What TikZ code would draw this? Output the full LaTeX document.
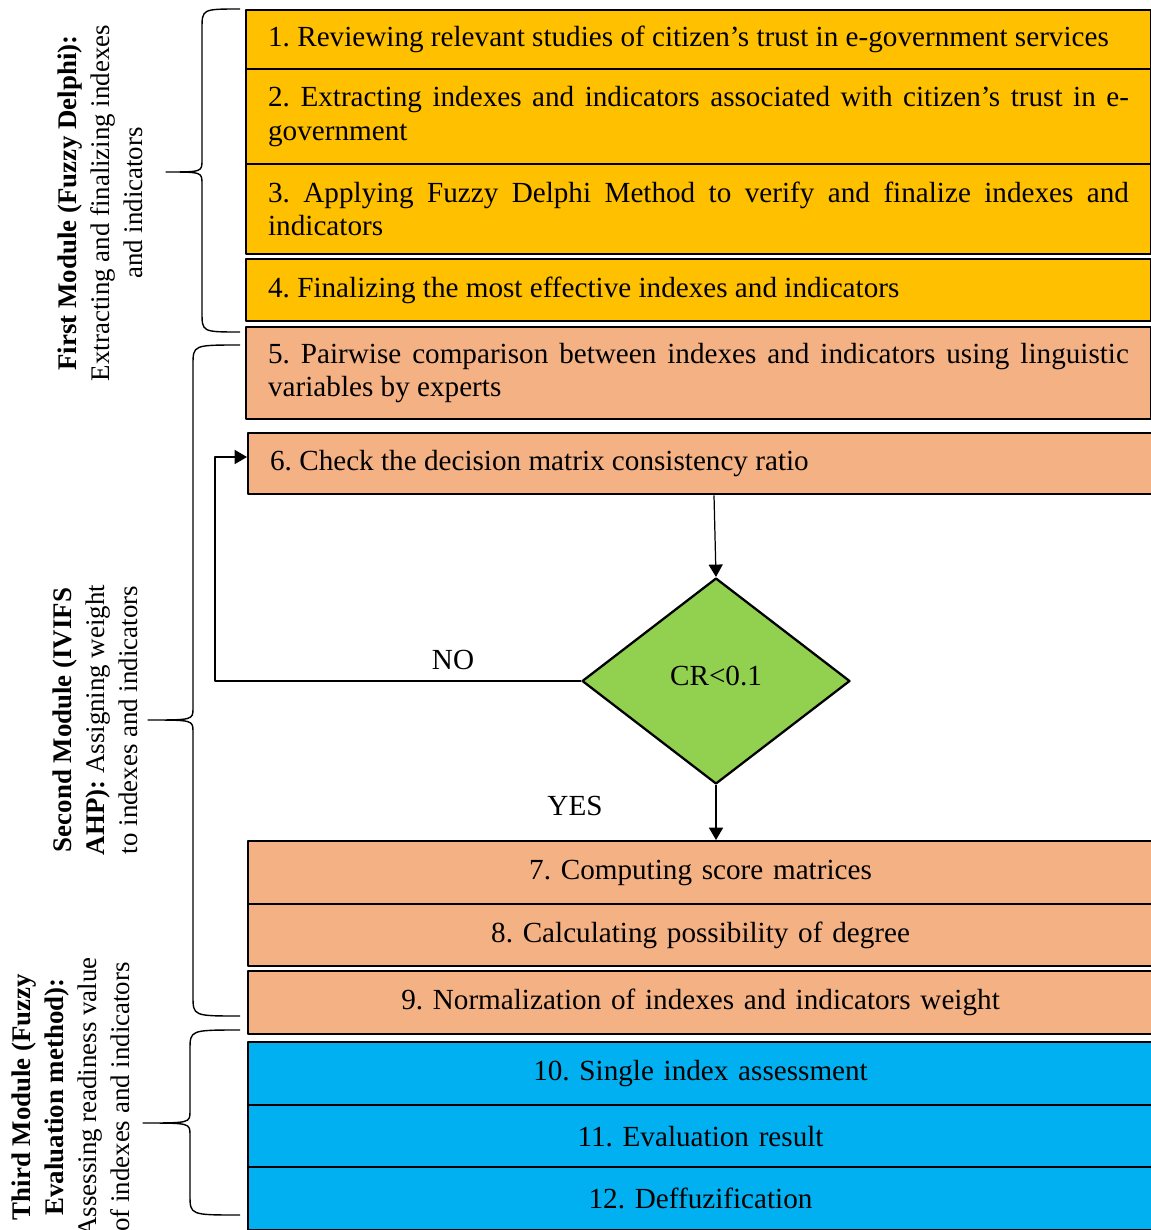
\documentclass[tikz,border=0pt]{standalone}
\usepackage{fontspec}
\setmainfont{Liberation Serif}
\usetikzlibrary{shapes.geometric,arrows.meta,positioning}

\definecolor{delphi}{HTML}{FFC000}
\definecolor{ahp}{HTML}{F4B183}
\definecolor{crgreen}{HTML}{92D050}
\definecolor{fuzzyeval}{HTML}{00B0F0}

\newcommand{\boxfont}{\fontsize{16.6}{19}\selectfont\frenchspacing\hyphenpenalty=10000\relax}
\newcommand{\sidefont}{\fontsize{15.3}{18.8}\selectfont}
\tikzset{
  stepbox/.style={draw,line width=1.3pt,anchor=north west,text width=17.22cm,
    inner xsep=0.44cm,inner ysep=0pt,align=justify,font=\boxfont},
  midbox/.style={stepbox,align=center},
  modtext/.style={rotate=90,align=center,font=\sidefont},
}
% brace: end x, spine x, tip x, top y, tip y, bottom y
\newcommand{\modbrace}[6]{%
  \draw[line width=0.8pt] (#1,#4) .. controls (#2,#4) .. (#2,#4+20) -- (#2,#5-12)
    .. controls (#2,#5) .. (#3,#5) .. controls (#2,#5) .. (#2,#5+12) -- (#2,#6-20)
    .. controls (#2,#6) .. (#1,#6);}

\begin{document}
\begin{tikzpicture}[x=0.02cm,y=-0.02cm,>={Triangle[length=7pt,width=8pt]},line join=round]
  \useasboundingbox (0,0) rectangle (1151,1230);
  % first module
  \node[stepbox,fill=delphi,minimum height=1.18cm] (s1) at (245,9) {1. Reviewing relevant studies of citizen's trust in e-government services};
  \node[stepbox,fill=delphi,minimum height=1.9cm] (s2) at (245,68) {2. Extracting indexes and indicators associated with citizen's trust in e-\linebreak government};
  \node[stepbox,fill=delphi,minimum height=1.8cm] (s3) at (245,163) {3. Applying Fuzzy Delphi Method to verify and finalize indexes and\linebreak indicators};
  \node[stepbox,fill=delphi,minimum height=1.24cm] (s4) at (245,258) {4. Finalizing the most effective indexes and indicators};
  % second module
  \node[stepbox,fill=ahp,minimum height=1.84cm] (s5) at (245,326) {5. Pairwise comparison between indexes and indicators using linguistic\linebreak variables by experts};
  \node[stepbox,fill=ahp,minimum height=1.22cm] (s6) at (247,432) {6. Check the decision matrix consistency ratio};
  \node[diamond,draw,line width=1.3pt,fill=crgreen,minimum width=5.36cm,minimum height=4.12cm,inner sep=0pt,font=\boxfont] (cr) at (716,681) {\raisebox{6pt}{CR<0.1}};
  \node[midbox,fill=ahp,minimum height=1.26cm] (s7) at (247,840) {7. Computing score matrices};
  \node[midbox,fill=ahp,minimum height=1.24cm] (s8) at (247,903) {8. Calculating possibility of degree};
  \node[midbox,fill=ahp,minimum height=1.26cm] (s9) at (247,970) {9. Normalization of indexes and indicators weight};
  % third module
  \node[midbox,fill=fuzzyeval,minimum height=1.26cm] (s10) at (247,1041) {10. Single index assessment};
  \node[midbox,fill=fuzzyeval,minimum height=1.24cm] (s11) at (247,1104) {11. Evaluation result};
  \node[midbox,fill=fuzzyeval,minimum height=1.26cm] (s12) at (247,1166) {12. Deffuzification};

  % connectors
  \coordinate (back) at (215,681);
  \draw[->,line width=0.7pt] (s6.south -| 714,0) -- (cr.north);
  \draw[->,line width=0.7pt] (cr.south) -- (cr.south |- s7.north);
  \draw[->,line width=0.7pt] (cr.west) -- (back) |- (215,457) -- (s6.west |- 0,457);
  \node[font=\boxfont] (no) at (453,660) {NO};
  \node[font=\boxfont] (yes) at (575,806) {YES};

  % module braces and labels
  \modbrace{240}{202}{166}{9}{172}{332}
  \modbrace{240}{193}{148}{345}{720}{1016}
  \modbrace{240}{190}{143}{1030}{1123}{1215}
  \node[modtext] (m1) at (100,203) {\textbf{First Module (Fuzzy Delphi):}\\Extracting and finalizing indexes\\and indicators};
  \node[modtext] (m2) at (95,720) {\textbf{Second Module (IVIFS}\\\textbf{AHP):} Assigning weight\\to indexes and indicators};
  \node[modtext] (m3) at (71,1097) {\textbf{Third Module (Fuzzy}\\\textbf{Evaluation method):}\\Assessing readiness value\\of indexes and indicators};
\end{tikzpicture}
\end{document}
